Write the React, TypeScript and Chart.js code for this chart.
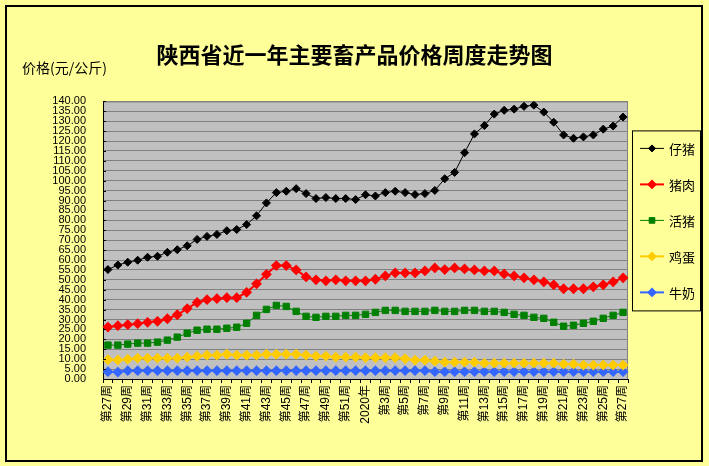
import { useEffect, useRef } from 'react';
import { Chart, registerables } from 'chart.js';
import type { Plugin } from 'chart.js';
import { drawPoint } from 'chart.js/helpers';

Chart.register(...registerables);

// 2019年第27周 ~ 2020年第27周
const weeks = [
  '第27周', '第28周', '第29周', '第30周', '第31周', '第32周', '第33周', '第34周', '第35周', '第36周',
  '第37周', '第38周', '第39周', '第40周', '第41周', '第42周', '第43周', '第44周', '第45周', '第46周',
  '第47周', '第48周', '第49周', '第50周', '第51周', '第52周', '2020年', '第2周', '第3周', '第4周',
  '第5周', '第6周', '第7周', '第8周', '第9周', '第10周', '第11周', '第12周', '第13周', '第14周',
  '第15周', '第16周', '第17周', '第18周', '第19周', '第20周', '第21周', '第22周', '第23周', '第24周',
  '第25周', '第26周', '第27周',
];

const piglet = [
  55.2, 57.5, 58.9, 59.9, 61.4, 61.9, 63.9, 65.2, 67.2, 70.4,
  71.9, 72.9, 74.8, 75.4, 77.9, 82.3, 88.8, 94.0, 94.7, 96.0,
  93.5, 91.0, 91.5, 91.0, 91.0, 90.5, 92.9, 92.3, 94.0, 94.7,
  94.0, 93.0, 93.5, 95.1, 101.0, 104.2, 114.1, 123.6, 127.8, 133.6,
  135.5, 136.1, 137.5, 138.1, 134.6, 129.5, 123.1, 121.4, 122.1, 123.1,
  126.0, 127.6, 132.1,
];
const pork = [
  26.2, 26.9, 27.4, 27.9, 28.6, 29.1, 30.4, 32.4, 35.5, 38.6,
  40.0, 40.5, 41.0, 41.0, 43.7, 48.0, 52.8, 57.2, 57.2, 55.0,
  51.5, 50.0, 49.5, 50.0, 49.5, 49.5, 49.5, 50.3, 52.0, 53.5,
  53.5, 53.5, 54.5, 56.0, 55.2, 56.0, 55.5, 55.0, 54.5, 54.5,
  53.0, 52.0, 51.0, 50.0, 49.0, 47.5, 45.5, 45.5, 45.5, 46.5,
  47.5, 49.0, 51.0,
];
const hog = [
  17.1, 17.1, 17.6, 18.1, 18.1, 18.6, 19.6, 21.1, 23.1, 24.6,
  25.1, 25.1, 25.6, 26.1, 28.1, 32.1, 35.1, 37.1, 36.6, 34.1,
  31.6, 31.1, 31.6, 31.6, 32.1, 32.1, 32.6, 33.6, 34.6, 34.6,
  34.1, 34.1, 34.1, 34.6, 34.1, 34.1, 34.6, 34.6, 34.1, 34.1,
  33.6, 32.6, 32.1, 31.1, 30.6, 28.6, 26.6, 27.1, 28.1, 29.1,
  30.6, 32.1, 33.6,
];
const egg = [
  9.7, 9.6, 10.0, 10.5, 10.5, 10.5, 10.5, 10.5, 11.0, 11.5,
  12.0, 12.0, 12.5, 12.0, 12.0, 12.0, 12.5, 12.5, 12.5, 12.5,
  12.0, 11.5, 11.5, 11.0, 11.0, 11.0, 10.7, 10.7, 10.7, 10.7,
  10.2, 9.5, 9.5, 9.0, 8.5, 8.5, 8.5, 8.5, 8.0, 8.0,
  8.0, 8.0, 8.0, 8.0, 8.0, 8.0, 7.5, 7.5, 7.0, 7.0,
  7.0, 7.0, 7.0,
];
const milk = [
  3.7, 3.5, 4.2, 4.2, 4.2, 4.2, 4.2, 4.2, 4.2, 4.2,
  4.2, 4.2, 4.2, 4.2, 4.2, 4.2, 4.2, 4.2, 4.2, 4.2,
  4.2, 4.2, 4.2, 4.2, 4.2, 4.2, 4.2, 4.2, 4.2, 4.2,
  4.2, 4.2, 4.2, 3.7, 3.7, 3.7, 3.7, 3.7, 3.7, 3.7,
  3.7, 3.7, 3.7, 3.7, 3.7, 3.7, 3.7, 3.7, 3.7, 3.7,
  3.7, 3.7, 3.7,
];

const yMin = 0;
const yMax = 140;
const yStep = 5;

const CJK = '"Noto Sans CJK SC", sans-serif';
const LATIN = '"Liberation Sans", "Noto Sans CJK SC", sans-serif';

// grey plot area with a grey frame (axes redraw left/bottom in black)
const plotBg: Plugin = {
  id: 'plotBg',
  beforeDraw(chart) {
    const { ctx, chartArea: a } = chart;
    ctx.save();
    ctx.fillStyle = '#C0C0C0';
    ctx.fillRect(a.left, a.top, a.right - a.left, a.bottom - a.top);
    ctx.strokeStyle = '#808080';
    ctx.lineWidth = 1;
    ctx.strokeRect(a.left + 0.5, a.top + 0.5, a.right - a.left - 1, a.bottom - a.top);
    ctx.restore();
  },
  // small inward tick marks on the value axis, like excel
  afterDraw(chart) {
    const { ctx } = chart;
    const y = chart.scales.y;
    ctx.save();
    ctx.strokeStyle = '#000';
    ctx.lineWidth = 1;
    ctx.beginPath();
    y.ticks.forEach((_t, i) => {
      const py = Math.round(y.getPixelForTick(i)) + 0.5;
      ctx.moveTo(y.right, py);
      ctx.lineTo(y.right + 3, py);
    });
    ctx.stroke();
    ctx.restore();
  },
};

// excel style legend: line + marker, boxed
const boxLegend: Plugin = {
  id: 'boxLegend',
  afterDraw(chart) {
    const { ctx, chartArea: a } = chart;
    const left = a.right + 4;
    const top = a.top + 29;
    const w = 68;
    const h = 180;
    ctx.save();
    ctx.strokeStyle = '#000';
    ctx.lineWidth = 1;
    ctx.strokeRect(left + 0.5, top + 0.5, w, h);
    ctx.font = `13px ${CJK}`;
    ctx.textBaseline = 'middle';
    ctx.textAlign = 'left';
    chart.data.datasets.forEach((ds: any, i) => {
      const y = top + 18 + i * 36;
      ctx.strokeStyle = ds.borderColor;
      ctx.lineWidth = ds.borderWidth;
      ctx.beginPath();
      ctx.moveTo(left + 8, y);
      ctx.lineTo(left + 32, y);
      ctx.stroke();
      ctx.fillStyle = ds.backgroundColor;
      drawPoint(ctx, { pointStyle: ds.pointStyle, radius: ds.pointRadius - 0.5, rotation: 0, borderWidth: 1 }, left + 20, y);
      ctx.fillStyle = '#000';
      ctx.fillText(ds.label, left + 37, y + 1);
    });
    ctx.restore();
  },
};

const App = () => {
  const chartRef = useRef<HTMLCanvasElement>(null);
  const chartInstanceRef = useRef<Chart | null>(null);

  useEffect(() => {
    if (!chartRef.current) return;
    if (chartInstanceRef.current) chartInstanceRef.current.destroy();
    chartInstanceRef.current = new Chart(chartRef.current, {
      type: 'line',
      data: {
        labels: weeks,
        datasets: [
          { label: '仔猪', data: piglet, borderColor: '#000000', backgroundColor: '#000000', borderWidth: 1, pointStyle: 'rectRot', pointRadius: 4 },
          { label: '猪肉', data: pork, borderColor: '#FF0000', backgroundColor: '#FF0000', borderWidth: 2, pointStyle: 'rectRot', pointRadius: 4 },
          { label: '活猪', data: hog, borderColor: '#008000', backgroundColor: '#008000', borderWidth: 1, pointStyle: 'rect', pointRadius: 4.5 },
          { label: '鸡蛋', data: egg, borderColor: '#FFCC00', backgroundColor: '#FFCC00', borderWidth: 2, pointStyle: 'rectRot', pointRadius: 4 },
          { label: '牛奶', data: milk, borderColor: '#3366FF', backgroundColor: '#3366FF', borderWidth: 2, pointStyle: 'rectRot', pointRadius: 4 },
        ],
      },
      options: {
        responsive: true,
        maintainAspectRatio: false,
        animation: false,
        events: [],
        layout: { padding: { top: 48, left: 22, right: 22, bottom: 0 } },
        elements: { line: { tension: 0 }, point: { borderWidth: 1 } },
        plugins: {
          legend: { display: false },
          tooltip: { enabled: false },
          title: {
            display: true,
            text: '陕西省近一年主要畜产品价格周度走势图',
            color: '#000',
            font: { family: CJK, size: 22, weight: 'bold', lineHeight: 0.6 },
            padding: { top: 0, bottom: 1 },
          },
          subtitle: {
            display: true,
            text: '价格(元/公斤)',
            align: 'start',
            color: '#000',
            font: { family: CJK, size: 14, lineHeight: 0.8 },
            padding: { top: 0, bottom: 28 },
          },
        },
        scales: {
          x: {
            offset: true,
            grid: { drawOnChartArea: false, drawTicks: true, tickLength: 4, color: '#000', offset: true },
            border: { color: '#000', width: 1 },
            ticks: {
              autoSkip: false,
              minRotation: 90,
              maxRotation: 90,
              padding: 2,
              color: '#000',
              font: { family: LATIN, size: 12 },
              callback: (_v, i) => (i % 2 === 0 ? weeks[i] : ''),
            },
            afterFit: (s) => { s.height = 87; },
          },
          y: {
            min: yMin,
            max: yMax,
            grid: { color: '#808080', lineWidth: 1, drawTicks: false },
            border: { color: '#000', width: 1 },
            ticks: {
              stepSize: yStep,
              autoSkip: false,
              maxTicksLimit: 40,
              padding: 17,
              color: '#000',
              font: { family: LATIN, size: 11 },
              callback: (v) => Number(v).toFixed(2),
            },
            afterFit: (s) => { s.width = 81; },
          },
          // empty right axis keeps room for the boxed legend
          yRight: {
            position: 'right',
            grid: { display: false },
            border: { display: false },
            ticks: { display: false },
            afterFit: (s) => { s.width = 59; },
          },
        },
      },
      plugins: [plotBg, boxLegend],
    });

    return () => {
      if (chartInstanceRef.current) chartInstanceRef.current.destroy();
      chartInstanceRef.current = null;
    };
  }, []);

  return (
    <div style={{ position: 'fixed', left: 0, top: 0, width: 709, height: 466, background: '#FFFF99' }}>
      <div style={{ position: 'absolute', left: 5, top: 5, width: 698, height: 457, border: '2px solid #000', boxSizing: 'border-box' }} />
      <canvas ref={chartRef} style={{ position: 'absolute', left: 0, top: 0 }} />
    </div>
  );
};

export default App;
